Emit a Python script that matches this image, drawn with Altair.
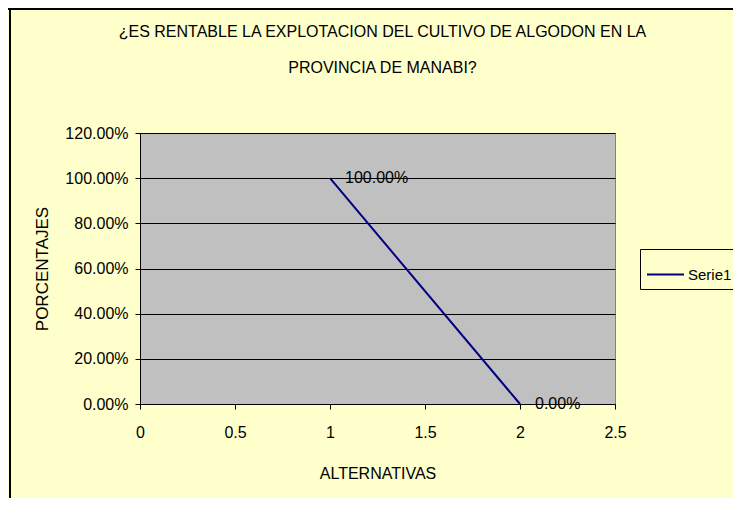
import altair as alt
import pandas as pd

# ---- data ----
alternativas = [1, 2]
porcentajes = [1.0, 0.0]
etiquetas = ["100.00%", "0.00%"]
serie = ["Serie1", "Serie1"]
x_ticks = [0, 0.5, 1, 1.5, 2, 2.5]
y_ticks = [0, 0.2, 0.4, 0.6, 0.8, 1.0, 1.2]
titulo = ["¿ES RENTABLE LA EXPLOTACION DEL CULTIVO DE ALGODON EN LA", "PROVINCIA DE MANABI?"]

df = pd.DataFrame({"x": alternativas, "y": porcentajes, "label": etiquetas, "serie": serie})

W, H = 475, 271
PL, PT = 132, 125
TOTAL_W, TOTAL_H = 725, 490
FONT = "Liberation Sans"
BG = "#FFFFCC"

xenc = alt.X(
    "x:Q",
    scale=alt.Scale(domain=[0, 2.5], nice=False, zero=False),
    axis=alt.Axis(values=x_ticks, format="~g", title="ALTERNATIVAS", grid=False,
                  tickSize=5, labelPadding=15, titlePadding=25, labelFlush=False),
)
yenc = alt.Y(
    "y:Q",
    scale=alt.Scale(domain=[0, 1.2], nice=False),
    axis=alt.Axis(values=y_ticks, format=".2%", title="PORCENTAJES", grid=True,
                  gridColor="black", gridOpacity=1, gridWidth=1,
                  tickSize=5, labelPadding=7, titlePadding=13, titleFontSize=17),
)

base = alt.Chart(df)
line = base.mark_line(strokeWidth=2).encode(
    x=xenc, y=yenc,
    color=alt.Color("serie:N", scale=alt.Scale(range=["#000080"]),
                    legend=alt.Legend(title=None, orient="none", legendX=500, legendY=116,
                                      symbolType="stroke", symbolSize=1369, symbolStrokeWidth=2,
                                      labelFontSize=15, labelFont=FONT, labelColor="black",
                                      strokeColor="black", fillColor=BG, padding=6,
                                      labelOffset=3)),
)
text = base.mark_text(align="left", baseline="middle", dx=15, fontSize=16,
                      font=FONT, color="black").encode(x="x:Q", y="y:Q", text="label:N")

# chart title drawn as two text lines (Excel-style, above the plot)
title1 = alt.Chart(pd.DataFrame({"t": [titulo[0]]})).mark_text(
    fontSize=16, font=FONT, color="black", baseline="middle", align="center"
).encode(text="t:N", x=alt.value(W / 2 + 5), y=alt.value(-101))
title2 = alt.Chart(pd.DataFrame({"t": [titulo[1]]})).mark_text(
    fontSize=16, font=FONT, color="black", baseline="middle", align="center"
).encode(text="t:N", x=alt.value(W / 2 + 5), y=alt.value(-65))

frame_df = pd.DataFrame({"a": [0]})
frame_left = alt.Chart(frame_df).mark_rule(color="black", strokeWidth=2).encode(
    x=alt.value(-PL + 2), y=alt.value(-PT), y2=alt.value(TOTAL_H - PT))
frame_top = alt.Chart(frame_df).mark_rule(color="black", strokeWidth=2).encode(
    x=alt.value(-PL), x2=alt.value(TOTAL_W - PL), y=alt.value(-PT + 1))

chart = alt.layer(line, text, title1, title2, frame_left, frame_top).properties(
    width=W, height=H,
    autosize=alt.AutoSizeParams(type="none"),
    padding={"left": PL, "top": PT, "right": TOTAL_W - PL - W, "bottom": TOTAL_H - PT - H},
    background=BG,
).configure_view(
    fill="#C0C0C0", stroke="#808080", strokeWidth=1
).configure_axis(
    labelFont=FONT, labelFontSize=16, labelColor="black",
    titleFont=FONT, titleFontSize=16, titleFontWeight="normal", titleColor="black",
    domainColor="black", tickColor="black", domainWidth=1,
)

chart.save("out.html", embed_options={"renderer": "svg", "actions": False})
